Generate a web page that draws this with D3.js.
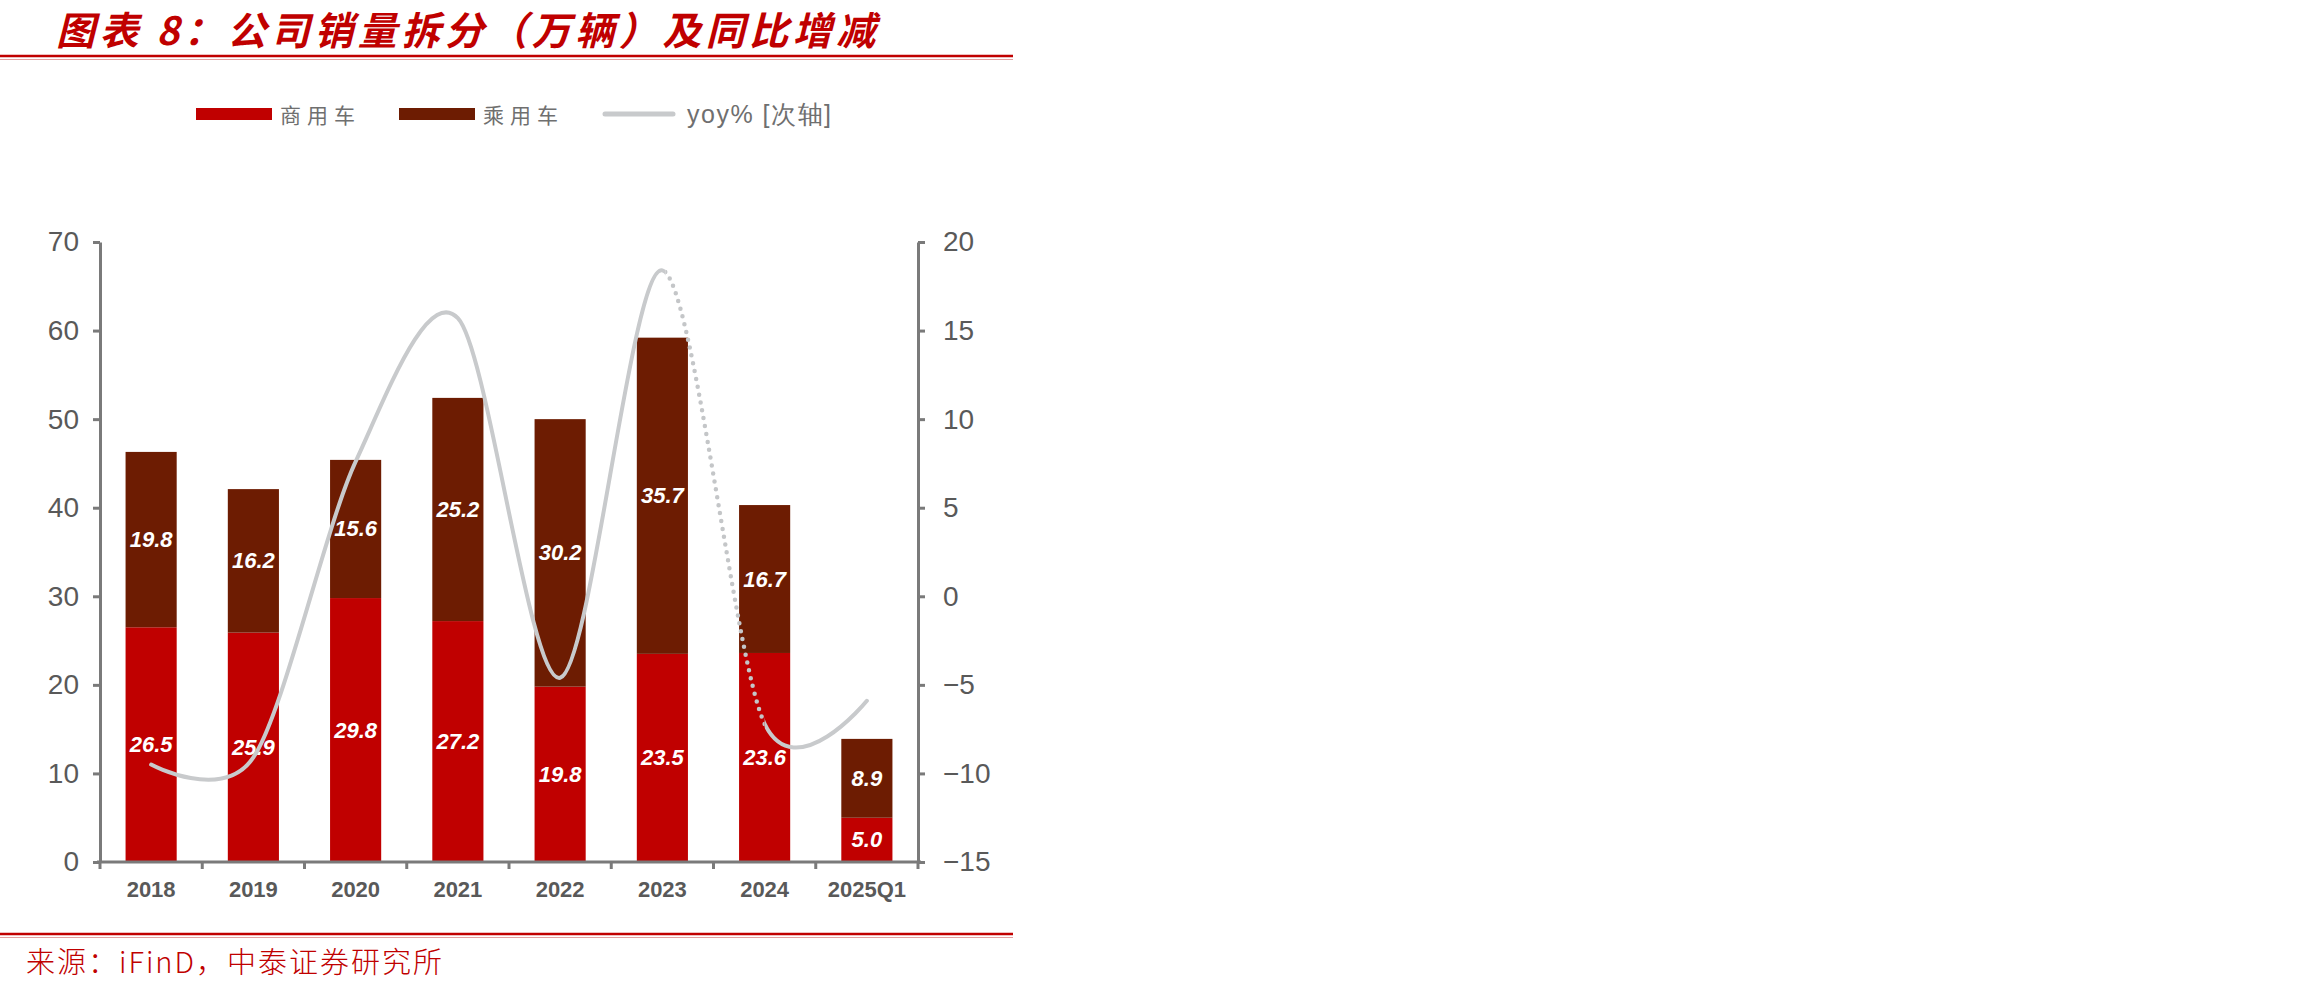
<!DOCTYPE html>
<html>
<head>
<meta charset="utf-8">
<script src="https://cdn.jsdelivr.net/npm/d3@7/dist/d3.min.js"></script>
<style>
  body { margin: 0; background: #ffffff; }
  svg { display: block; }
</style>
</head>
<body>
<script>
// 数据
var categories = ["2018", "2019", "2020", "2021", "2022", "2023", "2024", "2025Q1"];
var commercial = [26.5, 25.9, 29.8, 27.2, 19.8, 23.5, 23.6, 5.0];   // 商用车
var passenger = [19.8, 16.2, 15.6, 25.2, 30.2, 35.7, 16.7, 8.9];    // 乘用车
var yoy = [-9.5, -9.1, 7.6, 15.7, -4.6, 18.4, -7.2, -5.9];           // yoy% 次轴
var leftTicks = [0, 10, 20, 30, 40, 50, 60, 70];
var rightTicks = [-15, -10, -5, 0, 5, 10, 15, 20];
var seriesNames = ["商用车", "乘用车", "yoy% [次轴]"];

var W = 2302, H = 988;
var red = "#c00000", brown = "#6d1c02", lineGrey = "#c8cacc", axisGrey = "#7a7a7a", textGrey = "#595959";
var cjk = "'Noto Sans CJK SC', 'Noto Sans', sans-serif";
var latin = "'Liberation Sans', Arial, sans-serif";

var svg = d3.select("body").append("svg")
    .attr("width", W)
    .attr("height", H);
svg.append("rect").attr("width", W).attr("height", H).attr("fill", "#ffffff");

// 标题
svg.append("text")
    .attr("x", 56).attr("y", 45)
    .attr("font-family", cjk)
    .attr("font-size", 39)
    .attr("font-weight", "bold")
    .attr("font-style", "italic")
    .attr("letter-spacing", 4.5)
    .attr("fill", red)
    .text("图表 8：公司销量拆分（万辆）及同比增减");
svg.append("line").attr("x1", 0).attr("x2", 1013).attr("y1", 56).attr("y2", 56)
    .attr("stroke", red).attr("stroke-width", 2.5);
svg.append("line").attr("x1", 0).attr("x2", 1013).attr("y1", 59.5).attr("y2", 59.5)
    .attr("stroke", "#e3a0a0").attr("stroke-width", 1);

// 比例尺
var x = d3.scaleBand().domain(categories).range([100, 918]).paddingInner(0.5).paddingOuter(0.25);
var yL = d3.scaleLinear().domain([0, 70]).range([862, 242]);
var yR = d3.scaleLinear().domain([-15, 20]).range([862, 242]);

// 堆叠
var table = categories.map(function (c, i) {
    return { cat: c, commercial: commercial[i], passenger: passenger[i] };
});
var stacked = d3.stack().keys(["commercial", "passenger"])(table);
var colors = [red, brown];

var g = svg.append("g");
stacked.forEach(function (layer, k) {
    g.append("g").selectAll("rect").data(layer).enter().append("rect")
        .attr("x", function (d) { return x(d.data.cat); })
        .attr("width", x.bandwidth())
        .attr("y", function (d) { return yL(d[1]); })
        .attr("height", function (d) { return yL(d[0]) - yL(d[1]); })
        .attr("fill", colors[k]);
});

// 数据标签
stacked.forEach(function (layer) {
    g.append("g").selectAll("text").data(layer).enter().append("text")
        .attr("x", function (d) { return x(d.data.cat) + x.bandwidth() / 2; })
        .attr("y", function (d) { return yL((d[0] + d[1]) / 2); })
        .attr("text-anchor", "middle")
        .attr("dominant-baseline", "central")
        .attr("font-family", latin)
        .attr("font-size", 22)
        .attr("font-weight", "bold")
        .attr("font-style", "italic")
        .attr("fill", "#ffffff")
        .text(function (d) { return (d[1] - d[0]).toFixed(1); });
});

// 坐标轴
var axL = svg.append("g").attr("transform", "translate(100,0)")
    .call(d3.axisLeft(yL).tickValues(leftTicks).tickSize(7).tickPadding(14).tickSizeOuter(0));
var axR = svg.append("g").attr("transform", "translate(918,0)")
    .call(d3.axisRight(yR).tickValues(rightTicks).tickSize(7).tickPadding(18).tickSizeOuter(0));
[axL, axR].forEach(function (ax) {
    ax.select(".domain").attr("stroke", axisGrey).attr("stroke-width", 3);
    ax.selectAll(".tick line").attr("stroke", axisGrey).attr("stroke-width", 3);
    ax.selectAll(".tick text").attr("fill", textGrey).attr("font-family", latin).attr("font-size", 28);
});

// x轴
var half = x.step() / 2;
var bounds = categories.map(function (c) { return x(c) + x.bandwidth() / 2 - half; });
bounds.push(x(categories[categories.length - 1]) + x.bandwidth() / 2 + half);
svg.append("line").attr("x1", 97).attr("x2", 921).attr("y1", 862).attr("y2", 862)
    .attr("stroke", axisGrey).attr("stroke-width", 3);
svg.append("g").selectAll("line").data(bounds).enter().append("line")
    .attr("x1", function (d) { return d; }).attr("x2", function (d) { return d; })
    .attr("y1", 862).attr("y2", 869)
    .attr("stroke", axisGrey).attr("stroke-width", 3);
svg.append("g").selectAll("text").data(categories).enter().append("text")
    .attr("x", function (d) { return x(d) + x.bandwidth() / 2; })
    .attr("y", 889)
    .attr("text-anchor", "middle")
    .attr("dominant-baseline", "central")
    .attr("font-family", latin)
    .attr("font-size", 22)
    .attr("font-weight", "bold")
    .attr("fill", textGrey)
    .text(function (d) { return d; });

// 同比折线（2023-2024段为点线）
var pts = categories.map(function (c, i) { return [x(c) + x.bandwidth() / 2, yR(yoy[i])]; });
var line = d3.line().curve(d3.curveCardinal.tension(0.1));
var xa = pts[5][0] + 3, xb = pts[6][0];
var defs = svg.append("defs");
var cpSolid = defs.append("clipPath").attr("id", "solidClip");
cpSolid.append("rect").attr("x", 0).attr("y", 0).attr("width", xa).attr("height", H);
cpSolid.append("rect").attr("x", xb).attr("y", 0).attr("width", W - xb).attr("height", H);
defs.append("clipPath").attr("id", "dotClip")
    .append("rect").attr("x", xa).attr("y", 0).attr("width", xb - xa).attr("height", H);

svg.append("path").attr("d", line(pts))
    .attr("fill", "none").attr("stroke", lineGrey).attr("stroke-width", 4)
    .attr("stroke-linecap", "round")
    .attr("clip-path", "url(#solidClip)");
svg.append("path").attr("d", line(pts))
    .attr("fill", "none").attr("stroke", "#c4c6c8").attr("stroke-width", 4.5)
    .attr("stroke-linecap", "round").attr("stroke-dasharray", "0 8")
    .attr("clip-path", "url(#dotClip)");

// 图例
var legend = svg.append("g");
var lx = [196, 399, 602];
legend.append("rect").attr("x", lx[0]).attr("y", 108).attr("width", 76).attr("height", 12).attr("fill", red);
legend.append("rect").attr("x", lx[1]).attr("y", 108).attr("width", 76).attr("height", 12).attr("fill", brown);
legend.append("line").attr("x1", lx[2] + 3).attr("x2", lx[2] + 71).attr("y1", 114).attr("y2", 114)
    .attr("stroke", lineGrey).attr("stroke-width", 5).attr("stroke-linecap", "round");
legend.selectAll("text").data(seriesNames).enter().append("text")
    .attr("x", function (d, i) { return lx[i] + (i == 2 ? 85 : 84); })
    .attr("y", 114)
    .attr("dominant-baseline", "central")
    .attr("font-family", function (d, i) { return i == 2 ? latin : cjk; })
    .attr("font-size", function (d, i) { return i == 2 ? 25 : 21; })
    .attr("letter-spacing", function (d, i) { return i == 2 ? 1.5 : 6; })
    .attr("fill", "#6f6f6f")
    .text(function (d) { return d; });

// 来源
svg.append("line").attr("x1", 0).attr("x2", 1013).attr("y1", 934).attr("y2", 934)
    .attr("stroke", red).attr("stroke-width", 2.5);
svg.append("line").attr("x1", 0).attr("x2", 1013).attr("y1", 937.5).attr("y2", 937.5)
    .attr("stroke", "#e3a0a0").attr("stroke-width", 1);
svg.append("text")
    .attr("x", 26).attr("y", 960)
    .attr("dominant-baseline", "central")
    .attr("font-family", cjk)
    .attr("font-size", 29)
    .attr("font-weight", 300)
    .attr("letter-spacing", 2)
    .attr("fill", red)
    .text("来源：iFinD，中泰证券研究所");
</script>
</body>
</html>
